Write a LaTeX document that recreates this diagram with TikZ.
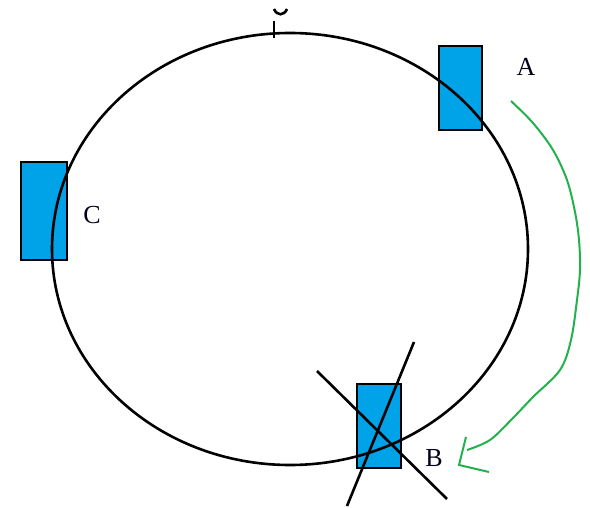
\documentclass[tikz,border=0pt]{standalone}
\usepackage{xcolor}
\usepackage{fontspec}
\setmainfont{Liberation Serif}
\definecolor{paint-blue}{HTML}{00A2E8}
\definecolor{paint-green}{HTML}{22B14C}

\begin{document}
\begin{tikzpicture}[x=1pt, y=-1pt,
    block/.style={draw, line width=2.8pt, fill=paint-blue},
    ring/.style={line width=2.6pt},
    tag/.style={font=\fontsize{26}{26}\selectfont, text=black!90!blue}]
    % Diagram: ring with three blocks; B crossed out, green arrow A -> B.
    % Coordinates in px of the reference (y grows downwards):
    %   ring centre (290,249), radii 238 x 216
    %   A spans x 439..482, B x 357..401, C x 21..67
    \useasboundingbox (0,0) rectangle (590,508);
    \filldraw[block] (439,46) rectangle (482,130);
    \filldraw[block] (21,162) rectangle (67,260);
    \filldraw[block] (357,384) rectangle (401,468);
    \draw[ring] (290,249) ellipse [x radius=238, y radius=216];
    % mark on top of the ring
    \draw[line width=2.2pt] (274,21) -- (274,38);
    \draw[line width=2.6pt] (274,9) .. controls (277,16) and (284,16) .. (287,9);
    % cross over B
    \draw[ring] (317,371) -- (447,499);
    \draw[ring] (414,342) -- (347,506);
    \node[tag] (labA) at (526,67) {A};
    \node[tag] (labB) at (434,458) {B};
    \node[tag] (labC) at (92,215) {C};
    % green freehand arrow
    \coordinate (from) at (511,101);
    \coordinate (to) at (467,450);
    \draw[paint-green, line width=2pt] plot[smooth, tension=0.55] coordinates
      {(from) (533,123) (553,150) (567,180) (575,212) (579,240) (580,270)
       (577,300) (571,340) (560,370) (533,397) (513,418) (490,440) (to)};
    \draw[paint-green, line width=2pt] (466,437) -- (459,465) -- (489,472);
\end{tikzpicture}
\end{document}
